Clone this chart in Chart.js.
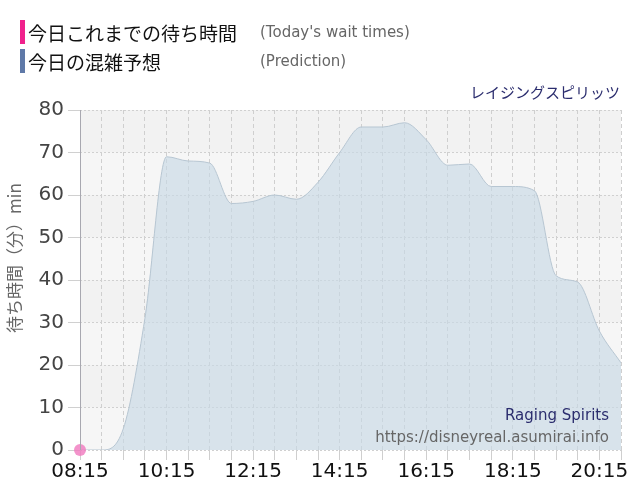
<!DOCTYPE html>
<html>
<head>
<meta charset="utf-8">
<script src="https://cdn.jsdelivr.net/npm/chart.js@4.4.1/dist/chart.umd.min.js"></script>
<style>
  html,body{margin:0;padding:0;background:#fff;}
  #wrap{position:relative;width:640px;height:500px;}
  canvas{position:absolute;left:0;top:0;}
  .lg{position:absolute;left:20px;height:24px;display:flex;align-items:center;}
  .bar{width:5px;height:24px;margin-right:3px;}
  .jp{font-family:"Noto Sans CJK JP","Noto Sans",sans-serif;font-size:19px;color:#111;}
  .en{position:absolute;left:240px;font-family:"DejaVu Sans",Verdana,sans-serif;font-size:15px;color:#666;white-space:nowrap;}
  #ride{position:absolute;right:20px;top:81px;font-family:"Noto Sans CJK JP",sans-serif;font-size:15px;color:#2b2d6e;}
</style>
</head>
<body>
<div id="wrap">
  <canvas id="c" width="640" height="500"></canvas>
  <div class="lg" style="top:20px"><div class="bar" style="background:#f0218c"></div><span class="jp">今日これまでの待ち時間</span><span class="en">(Today's wait times)</span></div>
  <div class="lg" style="top:49px"><div class="bar" style="background:#5f79a8"></div><span class="jp">今日の混雑予想</span><span class="en">(Prediction)</span></div>
  <div id="ride">レイジングスピリッツ</div>
</div>
<script>
const times = ["08:15","08:45","09:15","09:45","10:15","10:45","11:15","11:45","12:15","12:45","13:15","13:45","14:15","14:45","15:15","15:45","16:15","16:45","17:15","17:45","18:15","18:45","19:15","19:45","20:15","20:45"];
const prediction = [0,0,5,31,69,68,67.5,58,58.5,60,59,63,70,76,76,77,73,67,67.3,62,62,61,41,39.5,28,20.5];
const todayWait = [0,null,null,null,null,null,null,null,null,null,null,null,null,null,null,null,null,null,null,null,null,null,null,null,null,null];
const yTicks = [0,10,20,30,40,50,60,70,80];
const yTitle = '待ち時間（分）min';

const bgPlugin = {
  id:'bg',
  beforeDraw(chart){
    const {ctx, chartArea:a, scales:{y}} = chart;
    ctx.save();
    for(let i=0;i<yTicks.length-1;i++){
      const top = y.getPixelForValue(yTicks[i+1]);
      const bot = y.getPixelForValue(yTicks[i]);
      ctx.fillStyle = (i%2===0) ? '#f6f6f6' : '#f2f2f2';
      ctx.fillRect(a.left, top, a.right-a.left, bot-top);
    }
    ctx.restore();
  },
  afterDatasetsDraw(chart){
    const {ctx, chartArea:a} = chart;
    ctx.save();
    // y axis line
    ctx.strokeStyle='#a8a8b0';
    ctx.lineWidth=1;
    ctx.beginPath();
    ctx.moveTo(a.left+0.5, a.top);
    ctx.lineTo(a.left+0.5, a.bottom);
    ctx.stroke();
    ctx.textAlign='right';
    ctx.font='15px "DejaVu Sans", Verdana, sans-serif';
    ctx.fillStyle='#2b2d6e';
    ctx.fillText('Raging Spirits', a.right-12, a.bottom-30);
    ctx.fillStyle='#666';
    ctx.fillText('https://disneyreal.asumirai.info', a.right-12, a.bottom-8);
    // y axis title
    ctx.translate(15, 258);
    ctx.rotate(-Math.PI/2);
    ctx.textAlign='center';
    ctx.textBaseline='middle';
    ctx.font='17px "Noto Sans CJK JP", sans-serif';
    ctx.fillStyle='#666';
    ctx.fillText(yTitle, 0, 0);
    ctx.restore();
  }
};

new Chart(document.getElementById('c'), {
  type:'line',
  data:{
    labels:times,
    datasets:[
      {
        label:'今日の混雑予想',
        data:prediction,
        fill:'origin',
        backgroundColor:'rgba(200,216,229,0.65)',
        borderColor:'#b7c6d2',
        borderWidth:1,
        pointRadius:0,
        cubicInterpolationMode:'monotone',
        order:2
      },
      {
        label:'今日これまでの待ち時間',
        data:todayWait,
        borderColor:'rgba(240,110,185,0.8)',
        backgroundColor:'rgba(240,120,190,0.8)',
        pointRadius:6,
        pointBorderWidth:0,
        showLine:false,
        clip:false,
        order:1
      }
    ]
  },
  options:{
    responsive:false,
    animation:false,
    layout:{padding:{top:110,right:19,bottom:0,left:0}},
    plugins:{legend:{display:false},tooltip:{enabled:false}},
    scales:{
      x:{
        offset:false,
        grid:{color:'#cfcfcf',lineWidth:1,tickLength:10,drawTicks:true},
        border:{display:false,dash:[4,3]},
        ticks:{
          autoSkip:false,maxRotation:0,
          color:'#111',
          font:{family:'"DejaVu Sans", Verdana, sans-serif',size:20},
          padding:0,
          callback:function(v,i){return i%4===0 ? times[i] : '';}
        },
        afterFit(s){s.height=50;}
      },
      y:{
        min:0,max:80,
        grid:{color:'#d0d0d0',tickLength:12},
        border:{display:false,dash:[2,2]},
        ticks:{
          stepSize:10,
          color:'#444',
          font:{family:'"DejaVu Sans", Verdana, sans-serif',size:20},
          padding:4
        },
        afterFit(s){s.width=80;}
      }
    }
  },
  plugins:[bgPlugin]
});
</script>
</body>
</html>
